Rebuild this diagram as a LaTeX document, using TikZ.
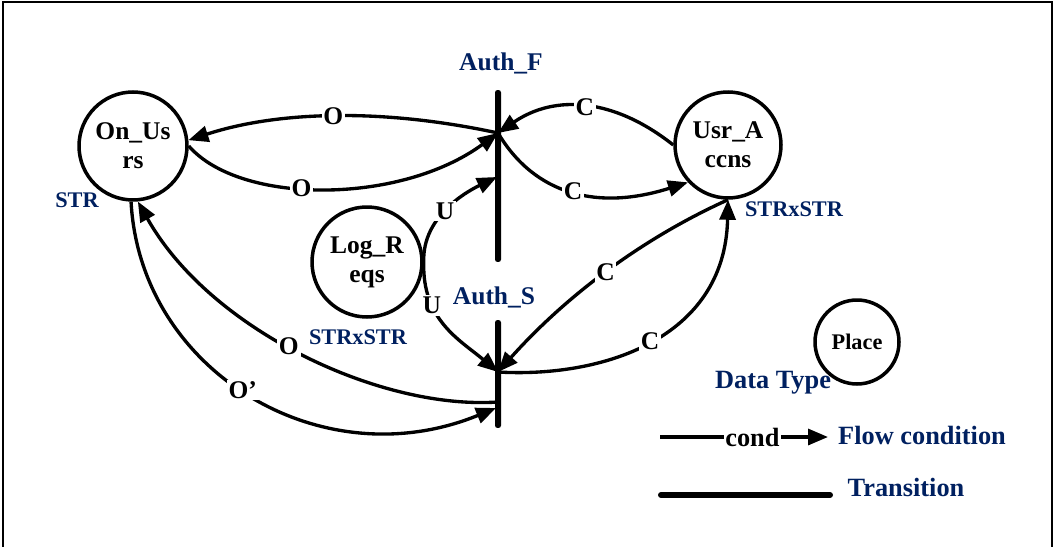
\documentclass[tikz,border=0pt]{standalone}
\usepackage{fontspec}
\setmainfont{Liberation Serif}
\usetikzlibrary{arrows.meta}
\definecolor{typeblue}{RGB}{0,32,96}
\newcommand{\placefont}{\fontsize{14.5}{16.5}\selectfont\bfseries}
\newcommand{\smallfont}{\fontsize{12.7}{14}\selectfont\bfseries}
\newcommand{\legendfont}{\fontsize{15}{17}\selectfont\bfseries}
\tikzstyle{place}=[draw, circle, line width=2pt, inner sep=0, align=center, font=\placefont]
\tikzstyle{transition}=[fill=black, minimum width=0.12cm, inner sep=0, rounded corners=0.05cm]
\tikzstyle{flow}=[line width=1.9pt, -{Triangle[length=0.4cm, width=0.32cm]}]
\tikzstyle{cond}=[fill=white, inner sep=1pt, font=\placefont]
\tikzstyle{data type}=[text=typeblue, font=\smallfont]
\tikzstyle{trans name}=[text=typeblue, font=\placefont]
\tikzstyle{legend}=[text=typeblue, font=\legendfont]

\begin{document}
\begin{tikzpicture}[x=0.02cm, y=-0.02cm]
  \useasboundingbox (0,0) rectangle (1057,547);
  \draw[line width=0.8pt] (3,547) -- (3,2) -- (1052,2) -- (1052,547);

  % places
  \node[place, minimum size=2.16cm] (on_users) at (133,146) {On\_Us\\rs};
  \node[place, minimum size=2.2cm] (log_reqs) at (367,262) {Log\_R\\eqs};
  \node[place, minimum size=2.12cm] (usr_accns) at (728,145) {Usr\_A\\ccns};
  \node[data type] (on_users_type) at (77,200) {STR};
  \node[data type] (log_reqs_type) at (358,337) {STRxSTR};
  \node[data type] (usr_accns_type) at (794,209) {STRxSTR};

  % transitions
  \node[transition, minimum height=3.44cm] (auth_F) at (498,176) {};
  \node[transition, minimum height=2.16cm] (auth_S) at (498,374) {};
  \node[trans name] (auth_F_name) at (501,63) {Auth\_F};
  \node[trans name] (auth_S_name) at (494,297) {Auth\_S};
  \coordinate (F_top) at (498,133);
  \coordinate (F_mid) at (497,177);
  \coordinate (S_mid) at (498,372);
  \coordinate (S_low) at (498,402);
  \coordinate (S_low2) at (496,408);

  % arcs
  \draw[flow] (F_top) .. controls (382,108) and (278,111) .. node[cond] {O} (on_users.6);
  \draw[flow] (on_users.0) .. controls (240,205) and (400,205) .. node[cond, pos=0.43] {O} (F_top);
  \draw[flow] (usr_accns.180) .. controls (614,98) and (555,94) .. node[cond] {C} (F_top);
  \draw[flow] (F_top) .. controls (535,195) and (598,211) .. node[cond] {C} (usr_accns.223);
  \draw[flow] (log_reqs.east) .. controls (422,215) and (470,190) .. node[cond, pos=0.45] {U} (F_mid);
  \draw[flow] (log_reqs.east) .. controls (422,320) and (460,340) .. node[cond, pos=0.3] {U} (S_mid);
  \draw[flow] (usr_accns.south) .. controls (641,239) and (565,297) .. node[cond] {C} (S_mid);
  \draw[flow] (S_mid) .. controls (600,378) and (725,340) .. node[cond] {C} (usr_accns.south);
  \draw[flow] (S_low) .. controls (380,410) and (210,330) .. node[cond, pos=0.53] {O} (on_users.275);
  \draw[flow] (on_users.268) .. controls (140,370) and (320,480) .. node[cond, pos=0.48] {O’} (S_low2);

  % legend
  \node[place, minimum size=1.68cm, font=\smallfont] (place_key) at (857,342) {Place};
  \node[legend] (data_type_key) at (773,383) {Data Type};
  \coordinate (cond_start) at (660,437);
  \coordinate (cond_end) at (828,437);
  \draw[flow] (cond_start) -- node[cond, pos=0.55, font=\legendfont] {cond} (cond_end);
  \node[legend] (flow_key) at (922,435) {Flow condition};
  \coordinate (bar_start) at (661,495);
  \coordinate (bar_end) at (830,495);
  \draw[line width=0.12cm, line cap=round] (bar_start) -- (bar_end);
  \node[legend] (transition_key) at (906,487) {Transition};
\end{tikzpicture}
\end{document}
